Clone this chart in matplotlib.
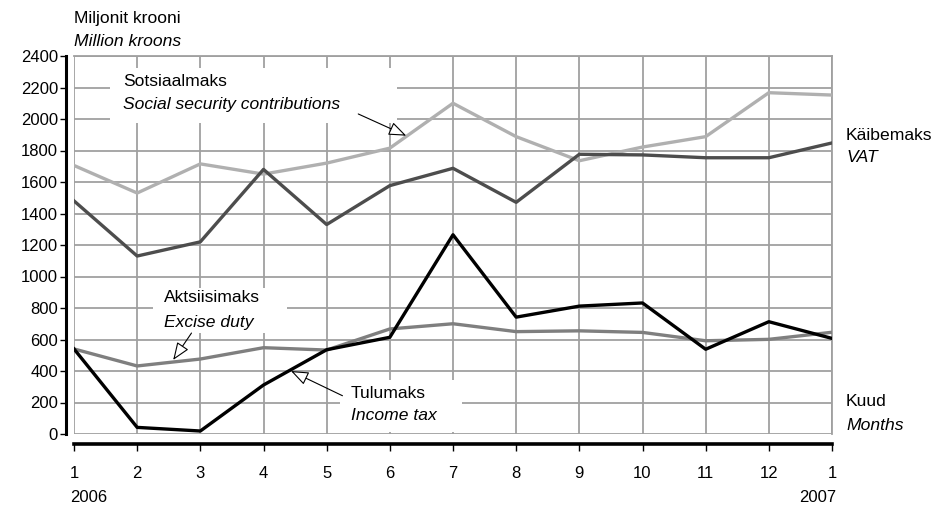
import matplotlib
matplotlib.use("Agg")
import matplotlib.pyplot as plt
import matplotlib.patches as patches

plt.rcParams['font.family'] = ['Liberation Sans', 'DejaVu Sans']
plt.rcParams['font.size'] = 12

# months: Jan 2006 .. Jan 2007
months = list(range(1, 14))
month_labels = ['1', '2', '3', '4', '5', '6', '7', '8', '9', '10', '11', '12', '1']

social = [1705, 1530, 1715, 1650, 1720, 1815, 2100, 1888, 1735, 1822, 1888, 2167, 2152]
vat = [1480, 1130, 1220, 1680, 1330, 1577, 1687, 1471, 1776, 1772, 1754, 1754, 1848]
excise = [540, 432, 476, 548, 533, 667, 700, 650, 655, 645, 592, 601, 646]
income = [540, 42, 19, 311, 535, 614, 1265, 742, 812, 832, 538, 713, 607]

W, H = 942, 509
fig = plt.figure(figsize=(W / 100, H / 100), dpi=100)
ax = fig.add_axes([74 / W, (H - 434) / H, 758 / W, 378 / H])

grid_c = '#a0a0a0'
ax.set_xlim(1, 13)
ax.set_ylim(0, 2400)
ax.set_xticks(months)
ax.set_xticklabels(month_labels)
ax.set_yticks(range(0, 2401, 200))
ax.grid(True, color=grid_c, lw=1.3)
ax.set_axisbelow(True)

for s in ('top', 'right'):
    ax.spines[s].set_color(grid_c)
    ax.spines[s].set_linewidth(1.3)
ax.spines['left'].set_position(('outward', 6))
ax.spines['left'].set_linewidth(2.2)
ax.spines['bottom'].set_position(('outward', 7))
ax.spines['bottom'].set_linewidth(2.6)
ax.tick_params(axis='y', length=4.5, width=1, pad=1)
ax.tick_params(axis='x', length=5, width=1, pad=11)

# series
ax.plot(months, social, color='#b0b0b0', lw=2.4, zorder=4)
ax.plot(months, vat, color='#4d4d4d', lw=2.4, zorder=4)
ax.plot(months, excise, color='#7f7f7f', lw=2.4, zorder=4)
ax.plot(months, income, color='black', lw=2.4, zorder=5)

fs = 12.6

# label boxes hiding the grid
def label(x0, x1, y0, y1, tx, ty1, ty2, t1, t2):
    ax.add_patch(patches.Rectangle((x0, y0), x1 - x0, y1 - y0, facecolor='white',
                                   edgecolor='none', zorder=2))
    ax.text(tx, ty1, t1, ha='left', va='center', fontsize=fs, zorder=3)
    ax.text(tx, ty2, t2, ha='left', va='center', fontsize=fs, style='italic', zorder=3)

label(1.57, 6.11, 1975, 2324, 1.776, 2241, 2095, 'Sotsiaalmaks', 'Social security contributions')
label(2.25, 4.37, 641, 927, 2.42, 864, 711, 'Aktsiisimaks', 'Excise duty')
label(5.21, 7.14, 13, 343, 5.385, 260, 118, 'Tulumaks', 'Income tax')

arrow = dict(arrowstyle='-|>,head_length=0.9,head_width=0.35', fc='white', ec='black',
             lw=0.8, shrinkA=0, shrinkB=0)
ax.annotate('', xy=(6.26, 1894), xytext=(5.50, 2032), arrowprops=arrow, zorder=6)
ax.annotate('', xy=(2.57, 470), xytext=(2.86, 641), arrowprops=arrow, zorder=6)
ax.annotate('', xy=(4.435, 400), xytext=(5.25, 243), arrowprops=arrow, zorder=6)

def ftext(x, y, s, size=fs, **kw):
    fig.text(x / W, 1 - y / H, s, va='center', fontsize=size, **kw)

ftext(74, 18, 'Miljonit krooni')
ftext(74, 42, 'Million kroons', style='italic')
ftext(846, 135, 'Käibemaks')
ftext(846, 158, 'VAT', style='italic')
ftext(846, 402, 'Kuud')
ftext(846, 426, 'Months', style='italic')
ftext(70, 498, '2006', size=12)
ftext(836, 498, '2007', size=12, ha='right')

fig.savefig('out.png', dpi=100)
